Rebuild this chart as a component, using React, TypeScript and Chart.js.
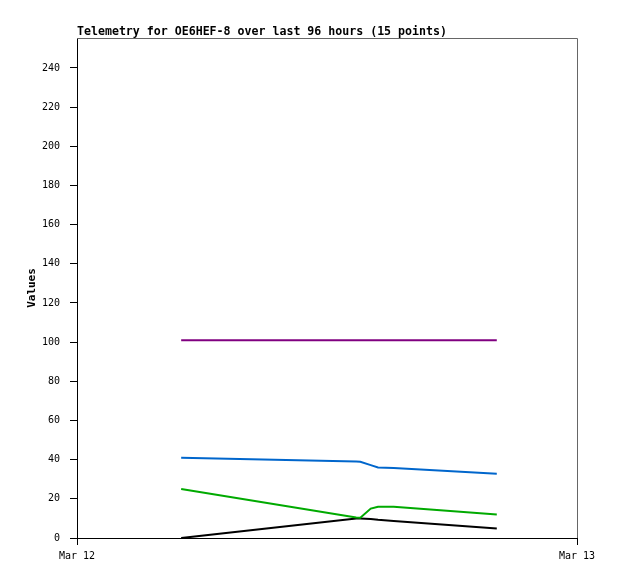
import React, { useEffect, useRef } from "react";
import { Chart, registerables } from "chart.js";

Chart.register(...registerables);

const titleText = "Telemetry for OE6HEF-8 over last 96 hours (15 points)";
const xTickLabels = ["Mar 12", "Mar 13"];
const xTickHours = [0, 24];
const yTicks = [0, 20, 40, 60, 80, 100, 120, 140, 160, 180, 200, 220, 240];

// hours after Mar 12 00:00
const hours = [5.0, 13.4, 13.6, 14.1, 14.45, 15.2, 20.15];
const purpleValues = [101, 101, 101, 101, 101, 101, 101];
const blueValues = [41, 39.0, 38.9, 37.2, 36.0, 35.7, 32.8];
const greenValues = [25, 10.5, 10.3, 15.0, 16, 16, 12];
const blackValues = [0, 9.9, 10, 9.7, 9.3, 8.7, 4.8];

const toPoints = (vals: number[]) => vals.map((v, i) => ({ x: hours[i], y: v }));

const frameAndTitle = {
  id: "frameAndTitle",
  afterDraw(chart: any) {
    const { ctx, chartArea } = chart;
    ctx.save();
    ctx.strokeStyle = "#666666";
    ctx.lineWidth = 1;
    ctx.beginPath();
    ctx.moveTo(chartArea.left, chartArea.top + 0.5);
    ctx.lineTo(chartArea.right + 0.5, chartArea.top + 0.5);
    ctx.lineTo(chartArea.right + 0.5, chartArea.bottom);
    ctx.stroke();
    ctx.fillStyle = "#000000";
    ctx.font = "bold 11.6px 'DejaVu Sans Mono'";
    ctx.textAlign = "left";
    ctx.textBaseline = "alphabetic";
    ctx.fillText(titleText, chartArea.left, chartArea.top - 3);
    ctx.restore();
  },
};

export default function App() {
  const ref = useRef<HTMLCanvasElement | null>(null);
  useEffect(() => {
    if (!ref.current) return;
    const mk = (label: string, vals: number[], color: string) => ({
      label,
      data: toPoints(vals),
      borderColor: color,
      backgroundColor: color,
      borderWidth: 2,
      pointRadius: 0,
      tension: 0,
      fill: false,
    });
    const chart = new Chart(ref.current, {
      type: "line",
      data: {
        datasets: [
          mk("purple", purpleValues, "#800080"),
          mk("blue", blueValues, "#0066cc"),
          mk("green", greenValues, "#00aa00"),
          mk("black", blackValues, "#000000"),
        ],
      },
      options: {
        animation: false,
        responsive: false,
        maintainAspectRatio: false,
        layout: { padding: { left: 0, right: 41, top: 38, bottom: 0 } },
        plugins: { legend: { display: false }, tooltip: { enabled: false }, title: { display: false } },
        scales: {
          x: {
            type: "linear",
            min: 0,
            max: 24,
            afterBuildTicks: (s: any) => {
              s.ticks = xTickHours.map((v) => ({ value: v }));
            },
            afterFit: (s: any) => {
              s.height = 41;
            },
            ticks: {
              autoSkip: false,
              maxRotation: 0,
              padding: 5,
              color: "#000000",
              font: { family: "'DejaVu Sans Mono'", size: 10 },
              callback: (v: any) => {
                const i = xTickHours.indexOf(Number(v));
                return i >= 0 ? xTickLabels[i] : "";
              },
            },
            grid: { drawOnChartArea: false, tickLength: 7, color: "#000000" },
            border: { color: "#000000", width: 1 },
          },
          y: {
            type: "linear",
            min: 0,
            max: 255.3,
            afterBuildTicks: (s: any) => {
              s.ticks = yTicks.map((v) => ({ value: v }));
            },
            afterFit: (s: any) => {
              s.width = 77;
            },
            title: {
              display: true,
              text: "Values",
              color: "#000000",
              font: { family: "'DejaVu Sans Mono'", size: 11, weight: "bold" },
              padding: { top: 26, bottom: 0 },
            },
            ticks: {
              padding: 10,
              color: "#000000",
              font: { family: "'DejaVu Sans Mono'", size: 10 },
            },
            grid: { drawOnChartArea: false, tickLength: 7, color: "#000000" },
            border: { color: "#000000", width: 1 },
          },
        },
      },
      plugins: [frameAndTitle],
    } as any);
    return () => chart.destroy();
  }, []);
  return (
    <div style={{ position: "fixed", left: 0, top: 0, width: 618, height: 579, background: "#ffffff" }}>
      <canvas ref={ref} width={618} height={579} style={{ width: 618, height: 579 }} />
    </div>
  );
}
